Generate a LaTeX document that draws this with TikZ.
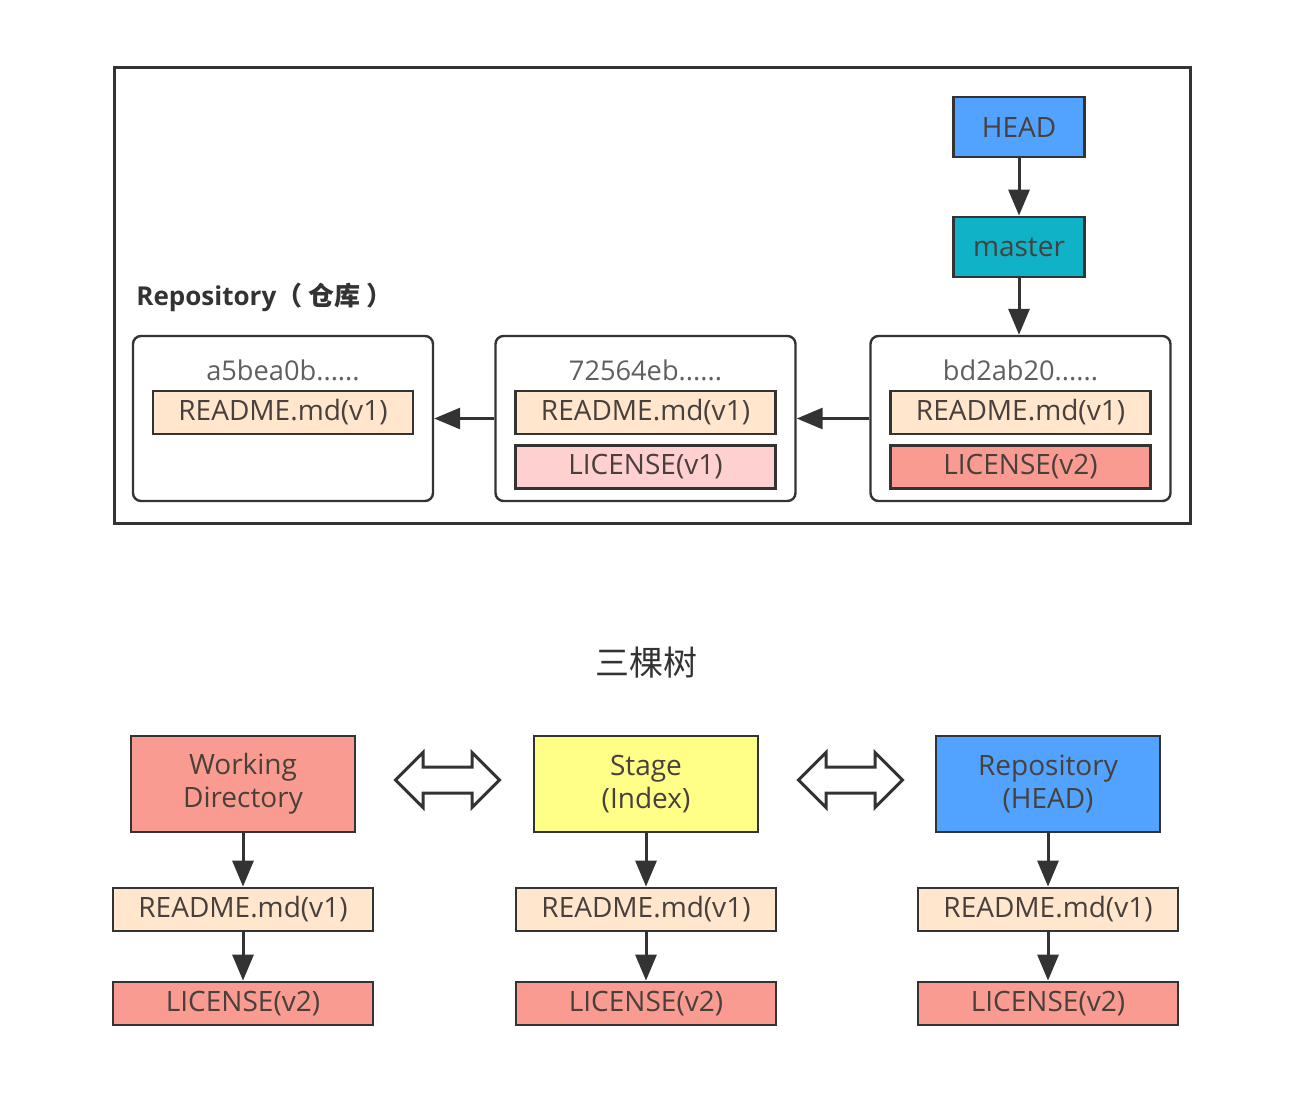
\documentclass[tikz,border=0pt]{standalone}
\usepackage{fontspec}
\setmainfont{Open Sans}
\newfontfamily\cjk{Noto Sans CJK SC}
\usetikzlibrary{arrows.meta, shapes.arrows}

\definecolor{linegray}{RGB}{51,51,51}
\definecolor{textgray}{RGB}{72,64,60}
\definecolor{hashgray}{RGB}{95,95,95}
\definecolor{headblue}{RGB}{82,163,255}
\definecolor{masterteal}{RGB}{16,178,200}
\definecolor{peach}{RGB}{255,230,204}
\definecolor{lightpink}{RGB}{255,208,208}
\definecolor{salmon}{RGB}{250,155,145}
\definecolor{stageyellow}{RGB}{255,255,136}

\begin{document}
\begin{tikzpicture}[
    x=0.5pt, y=-0.5pt,
    box/.style={draw=linegray, line width=1.4pt, text=textgray, inner sep=0pt,
      font=\fontsize{14}{15}\selectfont},
    file/.style={box, minimum width=130pt, minimum height=21.5pt},
    ref/.style={box, minimum width=65.5pt, minimum height=30pt},
    tree/.style={box, minimum width=112pt, minimum height=48pt, align=center,
      font=\fontsize{14}{16.5}\selectfont},
    commit/.style={draw=linegray, line width=1.2pt, rounded corners=4pt,
      minimum width=150pt, minimum height=82.5pt},
    hash/.style={text=hashgray, font=\fontsize{13.6}{15}\selectfont},
    link/.style={-{Triangle[length=13pt,width=10.5pt]}, draw=linegray, line width=1.5pt},
    swap/.style={double arrow, draw=linegray, line width=1.5pt, fill=white, inner sep=5.75pt,
      double arrow head extend=7.25pt, minimum height=52pt}
  ]
    \useasboundingbox (0,0) rectangle (1304,1098);

    % repository
    \node[draw=linegray, line width=1.5pt, minimum width=538pt, minimum height=228pt] (frame) at (652,295) {};
    \node[anchor=west, inner sep=0pt, text=linegray, font=\bfseries\fontsize{13}{15}\selectfont] (repolabel) at (136,297)
      {Repository{\cjk（ 仓库 ）}};

    \node[ref, fill=headblue] (head) at (1019,127) {HEAD};
    \node[ref, fill=masterteal] (master) at (1019,247) {master};

    \node[commit] (c1) at (283,418.5) {};
    \node[hash] (c1hash) at (283,370) {a5bea0b......};
    \node[file, fill=peach] (c1readme) at (283,412.5) {README.md(v1)};

    \node[commit] (c2) at (645.5,418.5) {};
    \node[hash] (c2hash) at (645.5,370) {72564eb......};
    \node[file, fill=peach] (c2readme) at (645.5,412.5) {README.md(v1)};
    \node[file, fill=lightpink] (c2license) at (645.5,467) {LICENSE(v1)};

    \node[commit] (c3) at (1020.5,418.5) {};
    \node[hash] (c3hash) at (1020.5,370) {bd2ab20......};
    \node[file, fill=peach] (c3readme) at (1020.5,412.5) {README.md(v1)};
    \node[file, fill=salmon] (c3license) at (1020.5,467) {LICENSE(v2)};

    \draw[link] (head) -- (master);
    \draw[link] (master) -- (master |- c3.north);
    \draw[link] (c3) -- (c2);
    \draw[link] (c2) -- (c1);

    % three trees
    \node[text=linegray, font=\cjk\fontsize{17}{19}\selectfont] (title) at (646,663) {三棵树};

    \node[tree, fill=salmon] (wd) at (243,784) {Working\\Directory};
    \node[tree, fill=stageyellow] (stage) at (646,784) {Stage\\(Index)};
    \node[tree, fill=headblue] (repo) at (1048,784) {Repository\\(HEAD)};

    \node[swap] (wdstage) at (447.5,780) {};
    \node[swap] (stagerepo) at (850.5,780) {};

    \node[file, fill=peach] (wdreadme) at (243,909.5) {README.md(v1)};
    \node[file, fill=salmon] (wdlicense) at (243,1003.5) {LICENSE(v2)};
    \node[file, fill=peach] (stagereadme) at (646,909.5) {README.md(v1)};
    \node[file, fill=salmon] (stagelicense) at (646,1003.5) {LICENSE(v2)};
    \node[file, fill=peach] (reporeadme) at (1048,909.5) {README.md(v1)};
    \node[file, fill=salmon] (repolicense) at (1048,1003.5) {LICENSE(v2)};

    \draw[link] (wd) -- (wdreadme);
    \draw[link] (wdreadme) -- (wdlicense);
    \draw[link] (stage) -- (stagereadme);
    \draw[link] (stagereadme) -- (stagelicense);
    \draw[link] (repo) -- (reporeadme);
    \draw[link] (reporeadme) -- (repolicense);
\end{tikzpicture}
\end{document}
